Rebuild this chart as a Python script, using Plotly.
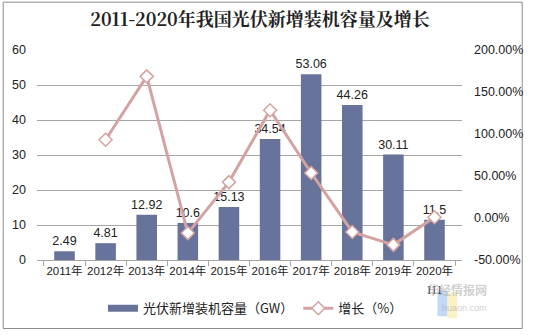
import plotly.graph_objects as go

years = ["2011年", "2012年", "2013年", "2014年", "2015年", "2016年", "2017年", "2018年", "2019年", "2020年"]
last_sub = "H1"
capacity = [2.49, 4.81, 12.92, 10.6, 15.13, 34.54, 53.06, 44.26, 30.11, 11.5]
growth = [None, 93.17, 168.61, -17.96, 42.74, 128.29, 53.62, -16.59, -31.97, 0.88]
cap_labels = ["2.49", "4.81", "12.92", "10.6", "15.13", "34.54", "53.06", "44.26", "30.11", "11.5"]
y2_ticks = [-50, 0, 50, 100, 150, 200]
y2_text = ["-50.00%", "0.00%", "50.00%", "100.00%", "150.00%", "200.00%"]

BAR = "#67739A"
LINE = "#D4A3A1"
GRID = "#A6A6A6"
TXT = "#222222"
FONT = "Liberation Sans, Arial, Noto Sans CJK SC, sans-serif"

fig = go.Figure()
fig.add_trace(go.Bar(
    x=years, y=capacity, width=0.5, marker=dict(color=BAR, line=dict(width=0)),
    text=cap_labels, textposition="outside", cliponaxis=False, constraintext="none",
    textfont=dict(size=12.5, color=TXT, family=FONT),
    showlegend=False, name="光伏新增装机容量（GW）"))
# legend swatch for bars (wide rectangle)
fig.add_trace(go.Scatter(
    x=[None], y=[None], mode="lines", line=dict(color=BAR, width=7),
    name="光伏新增装机容量（GW）", showlegend=True))
fig.add_trace(go.Scatter(
    x=years, y=growth, yaxis="y2", mode="lines+markers", name="增长（%）",
    line=dict(color=LINE, width=3),
    marker=dict(symbol="diamond", size=10, color="white", line=dict(color=LINE, width=1.5)),
    cliponaxis=False, connectgaps=False))

fig.update_layout(
    width=535, height=335,
    margin=dict(l=37, r=64, t=50, b=72),
    paper_bgcolor="white", plot_bgcolor="white",
    font=dict(family=FONT, color=TXT, size=12),
    title=dict(text="<b>2011-2020年我国光伏新增装机容量及增长</b>",
               font=dict(family="Noto Serif CJK SC, Noto Sans CJK SC, serif", size=18, color="#222"),
               x=0.486, xanchor="center", xref="container",
               y=1 - 20 / 335, yanchor="middle", yref="container"),
    bargap=0.5,
    xaxis=dict(type="category", showline=True, linecolor=GRID, linewidth=1,
               ticks="outside", tickson="boundaries", ticklen=5, tickcolor=GRID, tickangle=0,
               tickfont=dict(size=11.5, color=TXT), showgrid=False, zeroline=False),
    yaxis=dict(range=[0, 60], dtick=10, showgrid=True, gridcolor=GRID, gridwidth=1,
               zeroline=False, showline=False, ticks="", ticklabelstandoff=10,
               tickfont=dict(size=12.5, color=TXT)),
    yaxis2=dict(range=[-50, 200], overlaying="y", side="right", tickvals=y2_ticks, ticktext=y2_text,
                showgrid=False, zeroline=False, showline=False, ticks="", ticklabelstandoff=11,
                tickfont=dict(size=12.5, color=TXT)),
    legend=dict(orientation="h", x=0.514, xanchor="center", y=-0.23, yanchor="middle",
                font=dict(size=13, color=TXT, family="Noto Sans CJK SC, sans-serif"),
                bgcolor="rgba(0,0,0,0)", itemwidth=30, tracegroupgap=0),
)

# second line of the last category label
fig.add_annotation(text=last_sub, x=years[-1], xref="x", yref="paper", y=(263 - 292) / 213,
                   yanchor="middle", showarrow=False,
                   font=dict(size=11, color=TXT, family="Noto Serif CJK SC, serif"))

# outer border
fig.add_shape(type="rect", xref="paper", yref="paper",
              x0=(2.5 - 37) / 434, x1=(532.5 - 37) / 434,
              y0=(263 - 332.5) / 213, y1=(263 - 1.5) / 213,
              line=dict(color="#8C8C8C", width=1), fillcolor="rgba(0,0,0,0)", layer="below")

# watermark
fig.add_shape(type="rect", xref="paper", yref="paper", layer="below",
              x0=(446 - 37) / 434, x1=(456 - 37) / 434, y0=(263 - 320) / 213, y1=(263 - 294) / 213,
              line=dict(width=0), fillcolor="rgba(120,170,240,0.45)")
fig.add_shape(type="rect", xref="paper", yref="paper", layer="below",
              x0=(456 - 37) / 434, x1=(466 - 37) / 434, y0=(263 - 322) / 213, y1=(263 - 296) / 213,
              line=dict(width=0), fillcolor="rgba(250,225,140,0.5)")
fig.add_annotation(text="<b>华经情报网</b>", xref="paper", yref="paper",
                   x=(499 - 37) / 434, y=(263 - 304) / 213, showarrow=False,
                   font=dict(size=12, color="rgba(170,170,170,0.55)", family="Noto Sans CJK SC"))
fig.add_annotation(text="huaon.com", xref="paper", yref="paper",
                   x=(499 - 37) / 434, y=(263 - 319) / 213, showarrow=False,
                   font=dict(size=9, color="rgba(170,170,170,0.6)", family="Liberation Sans"))

fig.write_html("out.html")
